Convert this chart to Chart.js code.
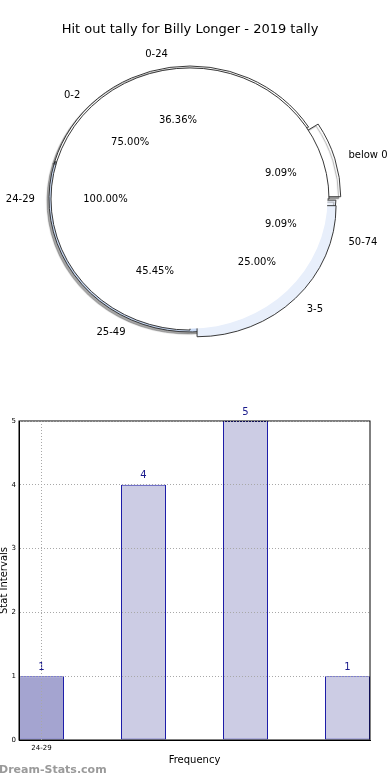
<!DOCTYPE html>
<html>
<head>
<meta charset="utf-8">
<script src="https://cdn.jsdelivr.net/npm/chart.js@4/dist/chart.umd.min.js"></script>
<style>
  body { margin: 0; background: #fff; width: 390px; height: 780px; overflow: hidden; position: relative; }
  .pieBox { position: absolute; left: 0; top: 0; width: 390px; height: 370px; }
  #barBox { position: absolute; left: 0; top: 380px; width: 390px; height: 400px; }
  #mark { position: absolute; left: -1px; top: 763px; font: bold 11px "DejaVu Sans", sans-serif; color: #9a9a9a; }
</style>
</head>
<body>
<div class="pieBox"><canvas id="pieOuter"></canvas></div>
<div class="pieBox"><canvas id="pieMid"></canvas></div>
<div class="pieBox"><canvas id="pieInner"></canvas></div>
<div id="barBox"><canvas id="bars"></canvas></div>
<div id="mark">Dream-Stats.com</div>
<script>
// data
const innerCats = ['24-29'];
const innerVals = [1];
const midCats = ['0-2', '3-5'];
const midVals = [3, 1];
const outerCats = ['below 0', '0-24', '25-49', '50-74'];
const outerVals = [1, 4, 5, 1];

const barVals = [1, 4, 5, 1];
const barTicks = ['24-29'];

// styles
const pieFill = { '24-29': '#ffffff', '0-2': '#ffffff', '3-5': '#e8effb',
  'below 0': '#ffffff', '0-24': '#ffffff', '25-49': '#c9daf5', '50-74': '#eef3fc' };
const explode = { 'below 0': 10, '50-74': 5, '3-5': 10 };     // px the wedge is pulled out
const labelPull = { 'below 0': 10, '50-74': 10, '3-5': 10 };  // px the labels move with it
const squashY = 0.943;
const titleText = 'Hit out tally for Billy Longer - 2019 tally';

Chart.defaults.font.family = '"DejaVu Sans", sans-serif';
Chart.defaults.color = '#000';

const pies = [];

// chart.js moves an arc by offset/4 and also grows small arcs, undo that
function arcOffset(v, total, shift) {
  if (!shift) return 0;
  const ang = Math.min(Math.PI, v / total * 2 * Math.PI);
  const fix = 1 - Math.sin(ang);
  return 4 * shift / (1 + fix);
}

// the pies are stacked full pies, squashed a bit like the original
const squash = {
  id: 'squash',
  beforeDatasetsDraw(chart, args, opts) {
    const a = chart.getDatasetMeta(0).data[0];
    const ctx = chart.ctx;
    ctx.save();
    ctx.translate(a.x, a.y);
    ctx.scale(1, squashY);
    ctx.translate(-a.x, -a.y);
    if (opts.shadow) {
      ctx.shadowColor = 'rgba(0,0,0,0.35)';
      ctx.shadowOffsetX = -2;
      ctx.shadowOffsetY = 2;
      ctx.shadowBlur = 1;
    }
  },
  afterDatasetsDraw(chart) {
    chart.ctx.restore();
  }
};

// all the labels go on the top canvas
const pieLabels = {
  id: 'pieLabels',
  afterDraw(chart) {
    const ctx = chart.ctx;
    const R = pies[0].getDatasetMeta(0).data[0].outerRadius;
    ctx.save();
    ctx.font = '10px "DejaVu Sans", sans-serif';
    ctx.fillStyle = '#000';
    ctx.textBaseline = 'middle';
    pies.concat([chart]).forEach(c => {
      const ds = c.data.datasets[0];
      const meta = c.getDatasetMeta(0);
      const total = ds.data.reduce((s, v) => s + v, 0);
      meta.data.forEach((arc, i) => {
        const name = c.data.labels[i];
        const mid = (arc.startAngle + arc.endAngle) / 2;
        const off = labelPull[name] || 0;
        const cx = Math.cos(mid), cy = Math.sin(mid);
        const pr = 0.6 * R + off;
        ctx.textAlign = 'center';
        ctx.fillText((ds.data[i] / total * 100).toFixed(2) + '%', arc.x + cx * pr, arc.y + cy * pr * squashY);
        const lr = 1.1 * R + off;
        ctx.textAlign = cx >= 0 ? 'left' : 'right';
        ctx.fillText(name, arc.x + cx * lr, arc.y + cy * lr * squashY);
      });
    });
    ctx.restore();
  }
};

function makePie(id, cats, vals, radius, opts) {
  // matplotlib runs counter clockwise from east, chart.js clockwise
  const c = cats.slice().reverse();
  const v = vals.slice().reverse();
  const total = v.reduce((s, x) => s + x, 0);
  return new Chart(document.getElementById(id), {
    type: 'pie',
    data: {
      labels: c,
      datasets: [{
        data: v,
        backgroundColor: c.map(k => pieFill[k]),
        offset: c.map((k, i) => arcOffset(v[i], total, explode[k])),
        hoverOffset: 40,
        borderColor: '#333',
        borderWidth: opts.border,
        hoverBorderWidth: 1,
        radius: radius
      }]
    },
    options: {
      responsive: true,
      maintainAspectRatio: false,
      animation: false,
      events: [],
      rotation: 90,
      layout: { padding: { left: 43.5, right: 53.5, top: opts.title ? 0 : 52.5, bottom: 24.5 } },
      plugins: {
        legend: { display: false },
        tooltip: { enabled: false },
        squash: { shadow: !!opts.shadow },
        title: {
          display: !!opts.title,
          text: titleText,
          color: '#000',
          font: { size: 13, weight: 'normal' },
          padding: { top: 22.2, bottom: 14.7 }
        }
      }
    },
    plugins: opts.labels ? [squash, pieLabels] : [squash]
  });
}

pies.push(makePie('pieOuter', outerCats, outerVals, 141, { border: 1, title: true, shadow: true }));
pies.push(makePie('pieMid', midCats, midVals, 139, { border: 1 }));
makePie('pieInner', innerCats, innerVals, 137.5, { border: 0, labels: true });

const barPlugin = {
  id: 'barPlugin',
  afterDatasetsDraw(chart) {
    const ctx = chart.ctx;
    const a = chart.chartArea;
    ctx.save();
    ctx.strokeStyle = '#000';
    ctx.lineWidth = 1;
    ctx.strokeRect(a.left, a.top, a.right - a.left, a.bottom - a.top);
    ctx.font = '10px "DejaVu Sans", sans-serif';
    ctx.fillStyle = '#1a1a8c';
    ctx.textAlign = 'center';
    ctx.textBaseline = 'middle';
    chart.getDatasetMeta(0).data.forEach((bar, i) => {
      ctx.fillText(String(barVals[i]), bar.x, bar.y - 9);
    });
    ctx.restore();
  }
};

new Chart(document.getElementById('bars'), {
  type: 'bar',
  data: {
    datasets: [{
      data: barVals.map((v, i) => ({ x: i, y: v })),
      backgroundColor: barVals.map((v, i) => i === 0 ? '#a4a4d0' : '#cccce4'),
      borderColor: '#1c1ca8',
      borderWidth: 1,
      borderSkipped: false,
      barPercentage: 0.441,
      categoryPercentage: 1
    }]
  },
  options: {
    responsive: true,
    maintainAspectRatio: false,
    animation: false,
    layout: { padding: { left: 0, right: 20, top: 41, bottom: 0 } },
    plugins: { legend: { display: false }, tooltip: { enabled: false } },
    scales: {
      x: {
        type: 'linear',
        offset: false,
        min: -0.2206,
        max: 3.2206,
        afterBuildTicks: s => { s.ticks = barTicks.map((t, i) => ({ value: i })); },
        afterFit: s => { s.height = 40; },
        ticks: { font: { size: 7 }, padding: 4, callback: v => barTicks[v], autoSkip: false, maxRotation: 0 },
        grid: { color: '#a8a8a8', drawTicks: false, offset: false, z: 1 },
        border: { display: true, color: '#000', dash: [1, 2], z: 2 },
        title: { display: true, text: 'Frequency', font: { size: 10 }, padding: { top: 0, bottom: 14 } }
      },
      y: {
        min: 0,
        max: 5,
        afterFit: s => { s.width = 19; },
        ticks: { stepSize: 1, font: { size: 7 }, padding: 3 },
        grid: { color: '#a8a8a8', drawTicks: false, z: 1 },
        border: { display: true, color: '#000', dash: [1, 2], z: 2 },
        title: { display: true, text: 'Stat Intervals', font: { size: 10 }, padding: { top: -2, bottom: 0 } }
      }
    }
  },
  plugins: [barPlugin]
});
</script>
</body>
</html>
